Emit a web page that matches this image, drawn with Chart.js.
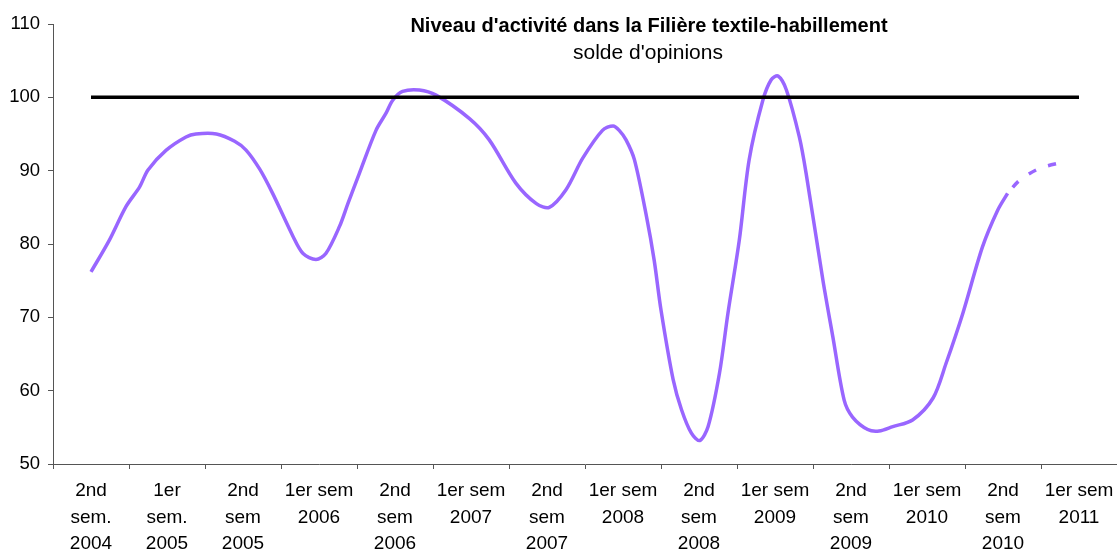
<!DOCTYPE html>
<html lang="fr">
<head>
<meta charset="utf-8">
<title>Niveau d'activité dans la Filière textile-habillement</title>
<script src="https://cdn.jsdelivr.net/npm/chart.js@4.4.1/dist/chart.umd.min.js"></script>
<style>
  html, body { margin: 0; padding: 0; background: #fff; }
  .chart-box { position: relative; width: 1117px; height: 550px; }
</style>
</head>
<body>
<div class="chart-box"><canvas id="activite"></canvas></div>
<script>
// textes du graphique
const titre = "Niveau d'activité dans la Filière textile-habillement";
const sousTitre = "solde d'opinions";

// semestres (axe des x)
const semestres = [
  ['2nd', 'sem.', '2004'],
  ['1er', 'sem.', '2005'],
  ['2nd', 'sem', '2005'],
  ['1er sem', '2006'],
  ['2nd', 'sem', '2006'],
  ['1er sem', '2007'],
  ['2nd', 'sem', '2007'],
  ['1er sem', '2008'],
  ['2nd', 'sem', '2008'],
  ['1er sem', '2009'],
  ['2nd', 'sem', '2009'],
  ['1er sem', '2010'],
  ['2nd', 'sem', '2010'],
  ['1er sem', '2011']
];

// position en semestres (0 = 2nd sem. 2004) et niveau
const position = [0, 0.24, 0.46, 0.64, 0.75, 0.99, 1.25, 1.38, 1.65, 1.89,
  2.04, 2.22, 2.39, 2.66, 2.79, 2.96, 3.09, 3.27, 3.38, 3.53,
  3.75, 3.88, 3.97, 4.10, 4.32, 4.54, 4.98, 5.24, 5.59, 5.86,
  6.03, 6.25, 6.47, 6.73, 6.87, 6.95, 7.04, 7.15, 7.31, 7.41,
  7.50, 7.66, 7.77, 7.90, 8.01, 8.12, 8.27, 8.38, 8.53, 8.66,
  8.84, 8.95, 9.04, 9.15, 9.32, 9.41, 9.63, 9.76, 9.91, 10.02,
  10.22, 10.37, 10.55, 10.81, 11.08, 11.25, 11.47, 11.73, 11.93, 12.06];
const niveau = [76.2, 80.5, 85.1, 87.8, 90.1, 92.8, 94.6, 95.0, 95.0, 94.0,
  92.8, 90.2, 86.9, 81.0, 78.7, 77.9, 78.7, 82.4, 85.5, 89.6,
  95.5, 97.8, 99.6, 100.8, 101.0, 100.3, 97.1, 94.2, 88.3, 85.5,
  85.0, 87.4, 91.7, 95.5, 96.1, 95.5, 94.2, 91.5, 83.7, 77.8,
  71.0, 61.5, 57.4, 54.2, 53.2, 55.1, 62.4, 70.5, 80.5, 91.5,
  99.6, 102.4, 102.9, 101.0, 94.6, 89.6, 75.1, 67.4, 58.7, 56.4,
  54.7, 54.5, 55.1, 56.0, 59.0, 63.7, 70.5, 79.6, 84.6, 86.9];

// prévision (pointillés)
const positionPrev = [12.06, 12.22, 12.48, 12.80];
const niveauPrev = [86.9, 88.7, 90.3, 91.2];

const reference = 100;
const yMin = 50, yMax = 110, yPas = 10;

const violet = '#9966ff';
const police = '"Liberation Sans", Arial, sans-serif';
Chart.defaults.font.family = police;
Chart.defaults.color = '#000';

// titre dessiné dans la zone du graphique
const titres = {
  id: 'titres',
  afterDraw(chart) {
    const ctx = chart.ctx;
    ctx.save();
    ctx.fillStyle = '#000';
    ctx.textAlign = 'center';
    ctx.textBaseline = 'alphabetic';
    ctx.font = 'bold 20px ' + police;
    ctx.fillText(titre, 649, 32);
    ctx.font = '21px ' + police;
    ctx.fillText(sousTitre, 648, 59);
    ctx.restore();
  }
};

const ctx = document.getElementById('activite').getContext('2d');
const graph = new Chart(ctx, {
  type: 'line',
  data: {
    datasets: [{
      label: 'référence',
      data: [{x: 0, y: reference}, {x: semestres.length - 1, y: reference}],
      borderColor: '#000',
      borderWidth: 3.5,
      pointRadius: 0
    }, {
      label: 'niveau',
      data: position.map((x, i) => ({x: x, y: niveau[i]})),
      borderColor: violet,
      borderWidth: 3.5,
      pointRadius: 0,
      tension: 0.3
    }, {
      label: 'prévision',
      data: positionPrev.map((x, i) => ({x: x, y: niveauPrev[i]})),
      borderColor: violet,
      borderWidth: 3.5,
      borderDash: [8, 13],
      borderDashOffset: -8,
      borderCapStyle: 'butt',
      pointRadius: 0,
      tension: 0.3
    }]
  },
  options: {
    responsive: true,
    maintainAspectRatio: false,
    animation: false,
    layout: { padding: { top: 24, right: 0, bottom: 0, left: 0 } },
    plugins: { legend: { display: false }, tooltip: { enabled: false } },
    scales: {
      x: {
        type: 'linear',
        min: -0.5,
        max: semestres.length - 0.5,
        afterBuildTicks: axis => { axis.ticks = semestres.map((s, i) => ({value: i})); },
        afterFit: axis => {
          axis.height = 86;
          axis.paddingLeft = 0;
          axis.paddingRight = 0;
        },
        ticks: {
          autoSkip: false,
          maxRotation: 0,
          padding: 9,
          font: { size: 19, lineHeight: 1.38 },
          color: '#000',
          callback: v => semestres[v]
        },
        grid: { offset: true, drawOnChartArea: false, tickLength: 5, color: '#555' },
        border: { color: '#555' }
      },
      y: {
        min: yMin,
        max: yMax,
        afterFit: axis => { axis.width = 53; },
        ticks: { stepSize: yPas, padding: 8, font: { size: 18.5 }, color: '#000' },
        grid: { drawOnChartArea: false, tickLength: 5, color: '#555' },
        border: { color: '#555' }
      }
    }
  },
  plugins: [titres]
});
</script>
</body>
</html>
